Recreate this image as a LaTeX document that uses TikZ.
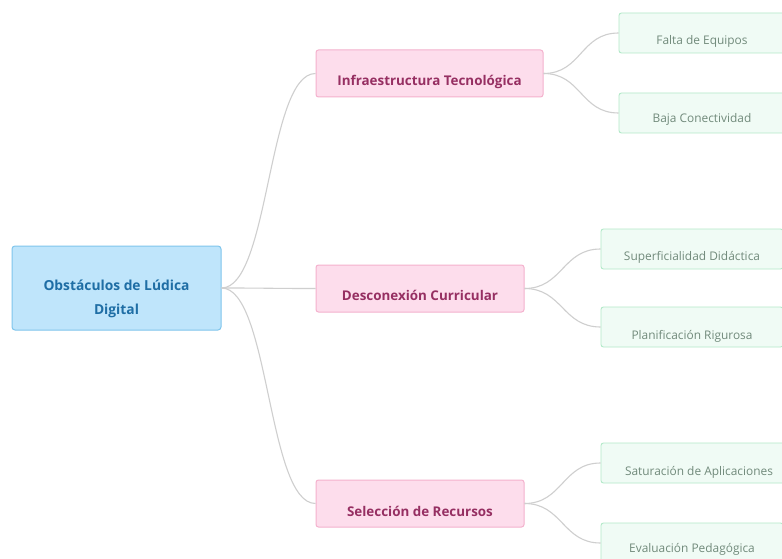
\documentclass[tikz,border=0pt]{standalone}
\usepackage{fontspec}
\setmainfont{Open Sans}
\begin{document}
% text sits a little below the middle of each box
\newcommand{\lowtext}[2]{\raisebox{-#1}[0pt][0pt]{#2}}
\definecolor{rootfill}{HTML}{BFE5FB}
\definecolor{rootline}{HTML}{7FC5EC}
\definecolor{roottext}{HTML}{1F6EA5}
\definecolor{topicfill}{HTML}{FDDDEC}
\definecolor{topicline}{HTML}{F4B1CD}
\definecolor{topictext}{HTML}{962F62}
\definecolor{leaffill}{HTML}{F0FBF5}
\definecolor{leafline}{HTML}{B3E9C9}
\definecolor{leaftext}{HTML}{718A7B}
\definecolor{linkgrey}{HTML}{CFCFCF}
\begin{tikzpicture}[x=1pt,y=-1pt,
  rootbox/.style={draw=rootline, fill=rootfill, line width=1pt, rounded corners=3pt,
    minimum width=209pt, minimum height=84pt, inner sep=0pt, text=roottext,
    font=\fontsize{13.8}{24}\selectfont\bfseries},
  topicbox/.style={draw=topicline, fill=topicfill, line width=1pt, rounded corners=2.5pt,
    minimum height=47pt, inner sep=0pt, text=topictext,
    font=\fontsize{13.4}{14}\selectfont\bfseries},
  leafbox/.style={draw=leafline, fill=leaffill, line width=0.9pt, rounded corners=2.5pt,
    minimum height=40pt, inner sep=0pt, text=leaftext,
    font=\fontsize{11.9}{13}\selectfont},
  link/.style={draw=linkgrey, line width=1.1pt}]
\useasboundingbox (0,0) rectangle (782,559);
\fill[white] (0,0) rectangle (782,559);

% central idea
\node[rootbox] (root) at (116.5,288)
  {\lowtext{2pt}{\begin{tabular}[t]{@{}c@{}}Obstáculos de Lúdica\\Digital\end{tabular}}};

% main branches
\node[topicbox, minimum width=227pt] (infra) at (429.5,73.5) {\lowtext{12pt}{Infraestructura Tecnológica}};
\node[topicbox, minimum width=208pt] (desc) at (420,288.5) {\lowtext{12pt}{Desconexión Curricular}};
\node[topicbox, minimum width=208pt] (sel) at (420,503.5) {\lowtext{13pt}{Selección de Recursos}};

% leaves
\node[leafbox, minimum width=166pt] (falta) at (702,33) {\lowtext{12pt}{Falta de Equipos}};
\node[leafbox, minimum width=166pt] (baja) at (702,113) {\lowtext{10pt}{Baja Conectividad}};
\node[leafbox, minimum width=182pt] (superf) at (692,249) {\lowtext{11pt}{Superficialidad Didáctica}};
\node[leafbox, minimum width=182pt] (planif) at (692,327) {\lowtext{12pt}{Planificación Rigurosa}};
\node[leafbox, minimum width=196pt] (satur) at (699,463) {\lowtext{12pt}{Saturación de Aplicaciones}};
\node[leafbox, minimum width=182pt] (evalu) at (692,543) {\lowtext{9pt}{Evaluación Pedagógica}};

% connectors
\foreach \t in {infra,desc,sel}
  \draw[link] (root.east) .. controls +(48,0) and ([xshift=-48pt]\t.west) .. (\t.west);
\foreach \s/\t in {infra/falta,infra/baja,desc/superf,desc/planif,sel/satur,sel/evalu}
  \draw[link] (\s.east) .. controls +(38,0) and ([xshift=-38pt]\t.west) .. (\t.west);
\end{tikzpicture}
\end{document}
